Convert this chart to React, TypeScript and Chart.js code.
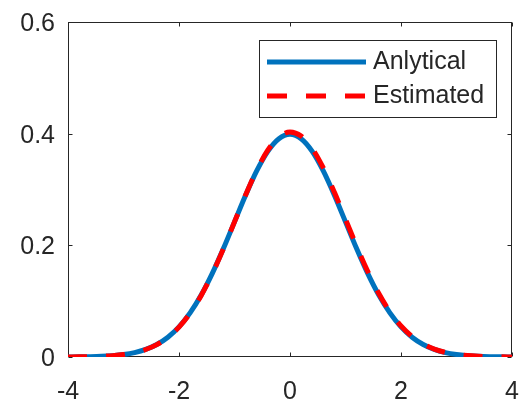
import React, { useEffect, useRef } from "react";
import { Chart, registerables } from "chart.js";

Chart.register(...registerables);

const X_VALUES = [
  -4, -3.8, -3.6, -3.4, -3.2, -3, -2.8, -2.6, -2.4, -2.2, -2, -1.8, -1.6, -1.4, -1.2, -1,
  -0.8, -0.6, -0.4, -0.2, 0, 0.2, 0.4, 0.6, 0.8, 1, 1.2, 1.4, 1.6, 1.8, 2, 2.2, 2.4, 2.6,
  2.8, 3, 3.2, 3.4, 3.6, 3.8, 4,
];

const ANALYTICAL = [
  0.0001, 0.0003, 0.0006, 0.0012, 0.0024, 0.0044, 0.0079, 0.0136, 0.0224, 0.0355, 0.054,
  0.079, 0.1109, 0.1497, 0.1942, 0.242, 0.2897, 0.3332, 0.3683, 0.391, 0.3989, 0.391, 0.3683,
  0.3332, 0.2897, 0.242, 0.1942, 0.1497, 0.1109, 0.079, 0.054, 0.0355, 0.0224, 0.0136, 0.0079,
  0.0044, 0.0024, 0.0012, 0.0006, 0.0003, 0.0001,
];

const ESTIMATED = [
  0.0001, 0.0003, 0.0006, 0.0012, 0.0023, 0.0043, 0.0078, 0.0134, 0.0221, 0.0351, 0.0535,
  0.0784, 0.1102, 0.1491, 0.1938, 0.242, 0.2903, 0.3345, 0.3705, 0.3941, 0.4029, 0.3957,
  0.3735, 0.3386, 0.2949, 0.2469, 0.1985, 0.1533, 0.1138, 0.0812, 0.0556, 0.0366, 0.0232,
  0.0141, 0.0082, 0.0046, 0.0025, 0.0013, 0.0006, 0.0003, 0.0001,
];

const X_TICKS = [-4, -2, 0, 2, 4];
const X_TICK_LABELS = ["-4", "-2", "0", "2", "4"];
const Y_TICKS = [0, 0.2, 0.4, 0.6];
const Y_TICK_LABELS = ["0", "0.2", "0.4", "0.6"];
const SERIES_NAMES = ["Anlytical", "Estimated"];

const FONT = "'Liberation Sans', Arial, sans-serif";
const AXIS_COLOR = "#262626";
const BLUE = "#0072BD";
const RED = "#FF0000";

const zeroPadding = (scale: any) => {
  scale.paddingTop = 0;
  scale.paddingBottom = 0;
  scale.paddingLeft = 0;
  scale.paddingRight = 0;
};

const axesBoxPlugin = {
  id: "axesBox",
  beforeDatasetsDraw(chart: any) {
    const { ctx, chartArea, scales } = chart;
    const l = Math.round(chartArea.left) + 0.5;
    const r = Math.round(chartArea.right) - 0.5;
    const t = Math.round(chartArea.top) + 0.5;
    const b = Math.round(chartArea.bottom) - 0.5;
    ctx.save();
    ctx.strokeStyle = AXIS_COLOR;
    ctx.lineWidth = 1;
    ctx.strokeRect(l, t, r - l, b - t);
    const len = 4;
    ctx.beginPath();
    X_TICKS.forEach((v) => {
      const px = Math.round(scales.x.getPixelForValue(v)) + 0.5;
      ctx.moveTo(px, b);
      ctx.lineTo(px, b - len);
      ctx.moveTo(px, t);
      ctx.lineTo(px, t + len);
    });
    Y_TICKS.forEach((v) => {
      const py = Math.round(scales.y.getPixelForValue(v)) + 0.5;
      ctx.moveTo(l, py);
      ctx.lineTo(l + len, py);
      ctx.moveTo(r, py);
      ctx.lineTo(r - len, py);
    });
    ctx.stroke();
    ctx.restore();
  },
};

const legendPlugin = {
  id: "matLegend",
  afterDraw(chart: any) {
    const { ctx } = chart;
    ctx.save();
    const bx = 259.5;
    const by = 40.5;
    const bw = 237;
    const bh = 77;
    ctx.fillStyle = "#ffffff";
    ctx.fillRect(bx, by, bw, bh);
    ctx.strokeStyle = AXIS_COLOR;
    ctx.lineWidth = 1;
    ctx.strokeRect(bx, by, bw, bh);
    const rows = [
      { y: 62, color: BLUE, dash: [] as number[], label: SERIES_NAMES[0] },
      { y: 96, color: RED, dash: [20, 19], label: SERIES_NAMES[1] },
    ];
    rows.forEach((row) => {
      ctx.beginPath();
      ctx.setLineDash(row.dash);
      ctx.strokeStyle = row.color;
      ctx.lineWidth = 5;
      ctx.lineCap = "butt";
      ctx.moveTo(267, row.y);
      ctx.lineTo(366, row.y);
      ctx.stroke();
      ctx.setLineDash([]);
      ctx.fillStyle = AXIS_COLOR;
      ctx.font = `25px ${FONT}`;
      ctx.textBaseline = "middle";
      ctx.textAlign = "left";
      ctx.fillText(row.label, 373, row.y);
    });
    ctx.restore();
  },
};

export default function App() {
  const canvasRef = useRef<HTMLCanvasElement | null>(null);

  useEffect(() => {
    if (!canvasRef.current) return;
    const blueData = X_VALUES.map((x, i) => ({ x, y: ANALYTICAL[i] }));
    const redData = X_VALUES.map((x, i) => ({ x, y: ESTIMATED[i] }));
    const chart = new Chart(canvasRef.current, {
      type: "line",
      data: {
        datasets: [
          {
            label: SERIES_NAMES[0],
            data: blueData,
            borderColor: BLUE,
            borderWidth: 5,
            pointRadius: 0,
            cubicInterpolationMode: "monotone",
            fill: false,
            order: 2,
          },
          {
            label: SERIES_NAMES[1],
            data: redData,
            borderColor: RED,
            borderWidth: 5,
            borderDash: [19, 19],
            borderCapStyle: "butt",
            pointRadius: 0,
            cubicInterpolationMode: "monotone",
            fill: false,
            order: 1,
          },
        ],
      },
      options: {
        responsive: false,
        animation: false,
        devicePixelRatio: 1,
        layout: { padding: { left: 0, top: 22, right: 7, bottom: 0 } },
        plugins: {
          legend: { display: false },
          tooltip: { enabled: false },
        },
        scales: {
          x: {
            type: "linear",
            min: -4,
            max: 4,
            grid: { display: false, drawTicks: false },
            border: { display: false },
            afterBuildTicks: (scale: any) => {
              scale.ticks = X_TICKS.map((v) => ({ value: v }));
            },
            afterFit: (scale: any) => {
              scale.height = 44;
              zeroPadding(scale);
            },
            ticks: {
              padding: 20,
              color: AXIS_COLOR,
              font: { family: FONT, size: 25 },
              maxRotation: 0,
              autoSkip: false,
              callback: (v: any) => X_TICK_LABELS[X_TICKS.indexOf(Number(v))] ?? "",
            },
          },
          y: {
            type: "linear",
            min: 0,
            max: 0.6,
            grid: { display: false, drawTicks: false },
            border: { display: false },
            afterBuildTicks: (scale: any) => {
              scale.ticks = Y_TICKS.map((v) => ({ value: v }));
            },
            afterFit: (scale: any) => {
              scale.width = 68;
              zeroPadding(scale);
            },
            ticks: {
              padding: 13,
              labelOffset: 2,
              color: AXIS_COLOR,
              font: { family: FONT, size: 25 },
              autoSkip: false,
              callback: (v: any) => {
                const idx = Y_TICKS.findIndex((t) => Math.abs(t - Number(v)) < 1e-9);
                return idx >= 0 ? Y_TICK_LABELS[idx] : "";
              },
            },
          },
        },
      },
      plugins: [axesBoxPlugin, legendPlugin],
    });
    return () => chart.destroy();
  }, []);

  return (
    <div style={{ position: "absolute", left: 0, top: 0, width: 519, height: 401, background: "#fff" }}>
      <canvas ref={canvasRef} width={519} height={401} style={{ display: "block" }} />
    </div>
  );
}
